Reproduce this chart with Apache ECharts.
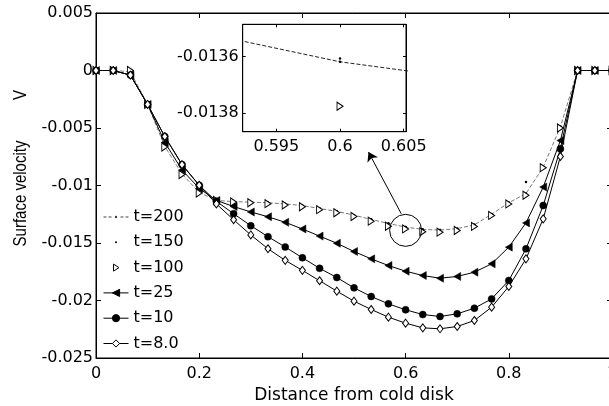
<!DOCTYPE html>
<html><head><meta charset="utf-8">
<script src="https://cdn.jsdelivr.net/npm/echarts@6/dist/echarts.min.js"></script>
<style>html,body{margin:0;padding:0;background:#fff}#c{width:609px;height:406px}</style>
</head><body><div id="c"></div>
<script>
// distance from cold disk
const xs = [0,0.0333,0.0667,0.1,0.1333,0.1667,0.2,0.2333,0.2667,0.3,0.3333,0.3667,0.4,0.4333,0.4667,0.5,
  0.5333,0.5667,0.6,0.6333,0.6667,0.7,0.7333,0.7667,0.8,0.8333,0.8667,0.9,0.9333,0.9667,1];
// surface velocity V for each time
const t200 = [0,0,-0.0001,-0.00295,-0.0066,-0.009,-0.0106,-0.0113,-0.0114,-0.01145,-0.0115,-0.0116,-0.01175,-0.012,-0.01225,-0.01258,
  -0.01295,-0.0133,-0.013618,-0.01382,-0.01388,-0.01375,-0.01342,-0.0125,-0.0115,-0.0107,-0.0084,-0.0049,0,0,0];
const t150 = [0,0,-0.0001,-0.00295,-0.0066,-0.009,-0.0106,-0.0113,-0.0114,-0.01145,-0.0115,-0.0116,-0.01175,-0.012,-0.01225,-0.01258,
  -0.01295,-0.0133,-0.013606,-0.01382,-0.01388,-0.01375,-0.01342,-0.0125,-0.0115,-0.0097,-0.0084,-0.0049,0,0,0];
const t100 = [0,0,0,-0.00295,-0.00665,-0.00905,-0.01065,-0.0113,-0.01143,-0.0115,-0.01158,-0.0117,-0.01185,-0.0121,-0.01237,-0.0127,
  -0.0131,-0.01354,-0.013775,-0.01402,-0.01406,-0.01391,-0.01356,-0.0126,-0.0116,-0.01085,-0.00845,-0.005,0,0,0];
const t25 = [0,0,-0.0004,-0.00295,-0.00625,-0.00865,-0.01025,-0.0113,-0.01183,-0.0123,-0.01272,-0.0132,-0.01378,-0.0144,-0.01502,-0.01574,
  -0.01638,-0.01696,-0.01745,-0.01783,-0.01806,-0.01791,-0.01754,-0.01681,-0.01536,-0.01325,-0.01014,-0.00609,0,0,0];
const t10 = [0,0,-0.0004,-0.00295,-0.00574,-0.00818,-0.00998,-0.01138,-0.01245,-0.0135,-0.01445,-0.01535,-0.01628,-0.0172,-0.018,-0.0189,
  -0.01965,-0.02029,-0.02081,-0.02122,-0.02139,-0.02116,-0.02067,-0.01986,-0.01826,-0.01551,-0.01174,-0.00681,0,0,0];
const t8 = [0,0,-0.0004,-0.00295,-0.00574,-0.00818,-0.00998,-0.0116,-0.01298,-0.0143,-0.0155,-0.01651,-0.01738,-0.01828,-0.01919,-0.02006,
  -0.02078,-0.02145,-0.02197,-0.02238,-0.02246,-0.02226,-0.02174,-0.02058,-0.01878,-0.01638,-0.0129,-0.00748,0,0,0];
const legendNames = ['t=200','t=150','t=100','t=25','t=10','t=8.0'];
// axis ranges / ticks
const mainX = {min:0, max:1, step:0.2};
const mainY = {min:-0.025, max:0.005, step:0.005};
const insetX = {min:0.59236, max:0.60518, ticks:[0.595,0.6,0.605]};
const insetY = {min:-0.013865, max:-0.0134855, ticks:[-0.0138,-0.0136]};
// annotation: circle around the zoomed point and arrow to the inset
const circleAt = [0.6, -0.0139];
const arrowFrom = [0.5915, -0.01245];
const arrowTo = [0.5281, -0.00709];

const pairs = v => xs.map((x,i)=>[x, v[i]]);
const fmt = v => String(parseFloat(v.toFixed(4)));
const F = 'DejaVu Sans';

function axisBase(extra){
  return Object.assign({
    type:'value', splitLine:{show:false},
    axisLine:{show:true, onZero:false, lineStyle:{color:'#000', width:1}},
    axisTick:{show:true, inside:true, length:5, lineStyle:{color:'#000', width:1}},
    axisLabel:{show:false}
  }, extra);
}

const chart = echarts.init(document.getElementById('c'), null, {renderer:'canvas'});
const openTri = {color:'#fff', borderColor:'#000', borderWidth:1};
const noLine = {width:0, opacity:0};

const option = {
  animation:false,
  backgroundColor:'#fff',
  grid:[
    {left:96, top:13, width:516, height:345, show:true, borderColor:'#000', borderWidth:1, backgroundColor:'transparent',
      containLabel:false, outerBoundsMode:'none'},
    {left:242.7, top:24.3, width:163.3, height:107.4, show:true, borderColor:'#000', borderWidth:1, backgroundColor:'#fff',
      containLabel:false, outerBoundsMode:'none'}
  ],
  xAxis:[
    axisBase({gridIndex:0, position:'bottom', min:mainX.min, max:mainX.max, interval:mainX.step,
      axisLabel:{show:true, margin:8, color:'#000', fontFamily:F, fontSize:16, formatter:fmt, hideOverlap:false},
      name:'Distance from cold disk', nameLocation:'middle', nameGap:28,
      nameTextStyle:{color:'#000', fontFamily:F, fontSize:17}}),
    axisBase({gridIndex:0, position:'top', min:mainX.min, max:mainX.max, interval:mainX.step}),
    axisBase({gridIndex:1, position:'bottom', min:insetX.min, max:insetX.max, splitNumber:3,
      axisTick:{show:true, inside:true, length:3, customValues:insetX.ticks, lineStyle:{color:'#000'}},
      axisLabel:{show:true, margin:7, color:'#000', fontFamily:F, fontSize:16, formatter:fmt, customValues:insetX.ticks}}),
    axisBase({gridIndex:1, position:'top', min:insetX.min, max:insetX.max, splitNumber:3,
      axisTick:{show:true, inside:true, length:3, customValues:insetX.ticks, lineStyle:{color:'#000'}}})
  ],
  yAxis:[
    axisBase({gridIndex:0, position:'left', min:mainY.min, max:mainY.max, interval:mainY.step,
      axisLabel:{show:true, margin:3, color:'#000', fontFamily:F, fontSize:16, formatter:fmt}}),
    axisBase({gridIndex:0, position:'right', min:mainY.min, max:mainY.max, interval:mainY.step}),
    axisBase({gridIndex:1, position:'left', min:insetY.min, max:insetY.max, splitNumber:2,
      axisTick:{show:true, inside:true, length:3, customValues:insetY.ticks, lineStyle:{color:'#000'}},
      axisLabel:{show:true, margin:4, color:'#000', fontFamily:F, fontSize:16, formatter:fmt, customValues:insetY.ticks}}),
    axisBase({gridIndex:1, position:'right', min:insetY.min, max:insetY.max, splitNumber:2,
      axisTick:{show:true, inside:true, length:3, customValues:insetY.ticks, lineStyle:{color:'#000'}}})
  ],
  legend:{
    orient:'vertical', left:103, top:209, padding:0, itemWidth:25, itemHeight:9, itemGap:9.3,
    selectedMode:false, textStyle:{fontFamily:F, fontSize:16, color:'#000', lineHeight:16},
    itemStyle:{borderWidth:1}, lineStyle:{width:1},
    data:[
      {name:'t=200', icon:'path://M0,0M25,9M0,4L3,4L3,5L0,5ZM5,4L8,4L8,5L5,5ZM17,4L20,4L20,5L17,5ZM22,4L25,4L25,5L22,5ZM11.3,4.5A1.2,1.2 0 1 0 13.7,4.5A1.2,1.2 0 1 0 11.3,4.5Z',
        itemStyle:{color:'#444', borderWidth:0}},
      {name:'t=150', icon:'path://M0,0M25,9M11.5,4.5A1,1 0 1 0 13.5,4.5A1,1 0 1 0 11.5,4.5Z',
        itemStyle:{color:'#000', borderWidth:0}},
      {name:'t=100', icon:'path://M0,0M25,9M10,1L15.5,4.5L10,8Z',
        itemStyle:{color:'#fff', borderColor:'#000', borderWidth:1}},
      {name:'t=25'}, {name:'t=10'}, {name:'t=8.0'}
    ]
  },
  graphic:[
    {type:'text', x:20.7, y:193.5, rotation:Math.PI/2, scaleY:1.2,
      style:{text:'Surface velocity', fontFamily:'Liberation Sans', fontSize:15, fill:'#000', align:'center', verticalAlign:'middle'}},
    {type:'text', x:20.7, y:95, rotation:Math.PI/2, scaleY:1.2,
      style:{text:'V', fontFamily:'Liberation Sans', fontSize:15, fill:'#000', align:'center', verticalAlign:'middle'}}
  ],
  series:[
    {type:'line', name:'t=200', data:pairs(t200), xAxisIndex:0, yAxisIndex:0, silent:true,
      symbol:'circle', symbolSize:2.5, itemStyle:{color:'#000', borderColor:'#000', borderWidth:0},
      lineStyle:{color:'#555', width:0.8, type:[4,2]}},
    {type:'line', name:'t=150', data:pairs(t150), xAxisIndex:0, yAxisIndex:0, silent:true,
      symbol:'circle', symbolSize:2.5, itemStyle:{color:'#000', borderColor:'#000', borderWidth:0}, lineStyle:noLine},
    {type:'line', name:'t=100', data:pairs(t100), xAxisIndex:0, yAxisIndex:0, silent:true,
      symbol:'triangle', symbolRotate:-90, symbolSize:[8,6], itemStyle:openTri, lineStyle:noLine,
      markPoint:{silent:true, symbol:'circle', symbolSize:32, label:{show:false},
        itemStyle:{color:'rgba(0,0,0,0)', borderColor:'#000', borderWidth:1},
        data:[{coord:circleAt}]},
      markLine:{silent:true, symbol:['none','arrow'], symbolSize:9, label:{show:false},
        lineStyle:{color:'#000', width:1, type:'solid'}, emphasis:{disabled:true},
        data:[[{coord:arrowFrom},{coord:arrowTo}]]}},
    {type:'line', name:'t=25', data:pairs(t25), xAxisIndex:0, yAxisIndex:0, silent:true,
      symbol:'triangle', symbolRotate:90, symbolSize:[8,7], itemStyle:{color:'#000', borderColor:'#000', borderWidth:0.5},
      lineStyle:{color:'#000', width:1}},
    {type:'line', name:'t=10', data:pairs(t10), xAxisIndex:0, yAxisIndex:0, silent:true,
      symbol:'circle', symbolSize:7, itemStyle:{color:'#000', borderColor:'#000', borderWidth:0.5},
      lineStyle:{color:'#000', width:1}},
    {type:'line', name:'t=8.0', data:pairs(t8), xAxisIndex:0, yAxisIndex:0, silent:true,
      symbol:'diamond', symbolSize:[6,8], itemStyle:{color:'#fff', borderColor:'#000', borderWidth:1},
      lineStyle:{color:'#000', width:1}},
    // inset (zoom around x = 0.6)
    {type:'line', name:'inset t=200', data:pairs(t200), xAxisIndex:2, yAxisIndex:2, silent:true, clip:true,
      symbol:'circle', symbolSize:2.5, itemStyle:{color:'#000', borderWidth:0},
      lineStyle:{color:'#222', width:1, type:[4,2]}},
    {type:'line', name:'inset t=150', data:pairs(t150), xAxisIndex:2, yAxisIndex:2, silent:true, clip:true,
      symbol:'circle', symbolSize:2.5, itemStyle:{color:'#000', borderWidth:0}, lineStyle:noLine},
    {type:'line', name:'inset t=100', data:pairs(t100), xAxisIndex:2, yAxisIndex:2, silent:true, clip:true,
      symbol:'triangle', symbolRotate:-90, symbolSize:[8,6], itemStyle:openTri, lineStyle:noLine}
  ]
};
chart.setOption(option);
</script></body></html>
